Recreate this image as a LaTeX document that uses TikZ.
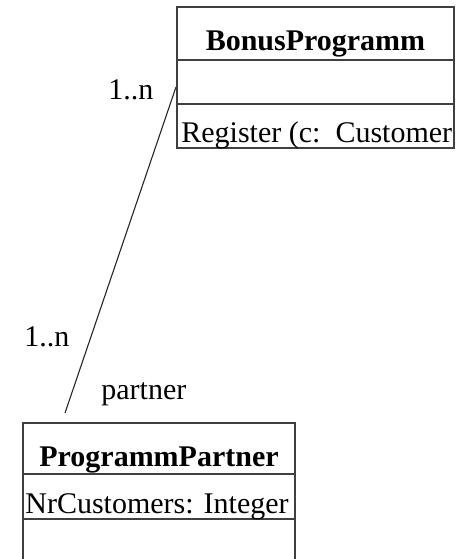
\documentclass[tikz,border=0pt]{standalone}
\usepackage{fontspec}
\setmainfont{Liberation Serif}
\usetikzlibrary{positioning}

\begin{document}
\begin{tikzpicture}[x=0.5pt,y=-0.5pt]
\tikzset{cell/.style = {draw=black!75, line width=.6pt}}
\tikzset{txt/.style = {inner sep=0pt, font=\fontsize{15}{18}\selectfont}}
\tikzset{edge/.style = {draw=black!85, line width=.55pt}}

\useasboundingbox (0,0) rectangle (461,559);
\clip (0,0) rectangle (461,559);

% class BonusProgramm
\foreach \ya/\yb in {7/60, 60/104, 104/148}
   {\draw[cell] (177,\ya) rectangle (454,\yb);}

% class ProgrammPartner
\foreach \ya/\yb in {423/474, 474/519, 519/575}
   {\draw[cell] (23,\ya) rectangle (295,\yb);}

\node[txt, anchor=base, font=\fontsize{15}{18}\selectfont\bfseries] (bonusname) at (315.5,50) {BonusProgramm};
\node[txt, anchor=base west] (bonusop) at (181,142) {Register (c:\ \ Customer};

\node[txt, anchor=base, font=\fontsize{15}{18}\selectfont\bfseries] (partnername) at (159,466) {ProgrammPartner};
\node[txt, anchor=base west] (partnerattr) at (25,513) {NrCustomers: Integer};

% association
\coordinate (bonusend) at (176,87);
\coordinate (partnerend) at (65,413);
\draw[edge] (bonusend) -- (partnerend);

\node[txt, anchor=base west] (multtop) at (108,99) {1..n};
\node[txt, anchor=base west] (multbottom) at (24,346) {1..n};
\node[txt, anchor=base west] (rolename) at (101,399) {partner};

\end{tikzpicture}
\end{document}
